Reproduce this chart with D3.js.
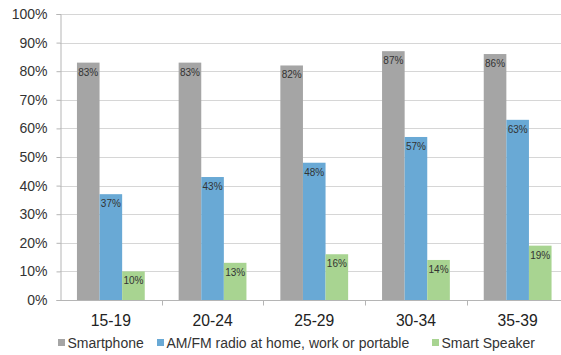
<!DOCTYPE html>
<html>
<head>
<meta charset="utf-8">
<script src="https://cdn.jsdelivr.net/npm/d3@7"></script>
<style>
  html, body { margin: 0; padding: 0; background: #fff; }
  svg { display: block; font-family: "Liberation Sans", Arial, sans-serif; }
</style>
</head>
<body>
<svg id="chart" width="561" height="355"></svg>
<script>
// Age groups along the x axis
const ageGroups = ["15-19", "20-24", "25-29", "30-34", "35-39"];

// Share of each age group using each device (percent)
const smartphone = [83, 83, 82, 87, 86];
const amfmRadio = [37, 43, 48, 57, 63];
const smartSpeaker = [10, 13, 16, 14, 19];

const seriesNames = ["Smartphone", "AM/FM radio at home, work or portable", "Smart Speaker"];
const seriesColors = ["#a5a5a5", "#69a9d5", "#a8d491"];

// Y axis tick values (percent)
const yTicks = [0, 10, 20, 30, 40, 50, 60, 70, 80, 90, 100];

const series = [smartphone, amfmRadio, smartSpeaker];

const svg = d3.select("#chart");
const margin = { left: 60, top: 14, bottom: 300 };
const plotRight = 568.5;

const x = d3.scaleBand()
  .domain(ageGroups)
  .range([margin.left, plotRight])
  .paddingInner(0)
  .paddingOuter(0);

const y = d3.scaleLinear()
  .domain([0, 100])
  .range([margin.bottom, margin.top]);

// Horizontal gridlines
svg.append("g")
  .selectAll("line")
  .data(yTicks.filter(d => d > 0))
  .join("line")
  .attr("x1", margin.left)
  .attr("x2", plotRight)
  .attr("y1", d => Math.round(y(d)) + 0.5)
  .attr("y2", d => Math.round(y(d)) + 0.5)
  .attr("stroke", "#d6d6d6")
  .attr("stroke-width", 1);

// Y axis
const yAxis = d3.axisLeft(y)
  .tickValues(yTicks)
  .tickFormat(d => d + "%")
  .tickSize(4)
  .tickPadding(9);

const gy = svg.append("g")
  .attr("transform", `translate(${margin.left + 0.5},0)`)
  .call(yAxis);
gy.select(".domain").attr("stroke", "#b5b5b5");
gy.selectAll(".tick line").attr("stroke", "#b5b5b5");
gy.selectAll(".tick text")
  .attr("fill", "#333")
  .style("font-size", "14px")
  .style("font-family", "Liberation Sans, Arial, sans-serif");

// Bars grouped inside each band (Excel-style 150% gap)
const bandW = x.bandwidth();
const barW = bandW / (3 + 1.5);
const groupOffset = (bandW - 3 * barW) / 2;

series.forEach((values, si) => {
  const g = svg.append("g");
  g.selectAll("rect")
    .data(values)
    .join("rect")
    .attr("x", (d, i) => x(ageGroups[i]) + groupOffset + si * barW)
    .attr("y", d => y(d))
    .attr("width", barW)
    .attr("height", d => y(0) - y(d))
    .attr("fill", seriesColors[si]);

  g.selectAll("text")
    .data(values)
    .join("text")
    .attr("x", (d, i) => x(ageGroups[i]) + groupOffset + si * barW + barW / 2)
    .attr("y", d => y(d) + 13)
    .attr("text-anchor", "middle")
    .attr("fill", "#333")
    .style("font-size", "10px")
    .text(d => d + "%");
});

// X axis with ticks at category boundaries
const gx = svg.append("g")
  .attr("transform", `translate(0,${margin.bottom + 0.5})`);
gx.append("line")
  .attr("x1", margin.left)
  .attr("x2", plotRight)
  .attr("stroke", "#b5b5b5");
gx.selectAll("line.tick")
  .data(ageGroups.slice(1))
  .join("line")
  .attr("class", "tick")
  .attr("x1", d => Math.round(x(d)) + 0.5)
  .attr("x2", d => Math.round(x(d)) + 0.5)
  .attr("y1", 0)
  .attr("y2", 5)
  .attr("stroke", "#b5b5b5");
gx.selectAll("text")
  .data(ageGroups)
  .join("text")
  .attr("x", d => x(d) + bandW / 2)
  .attr("y", 25.5)
  .attr("text-anchor", "middle")
  .attr("fill", "#222")
  .style("font-size", "15.7px")
  .text(d => d);

// Legend
const legendX = [58, 157, 432];
const legend = svg.append("g").attr("transform", "translate(0,343)");
seriesNames.forEach((name, i) => {
  legend.append("rect")
    .attr("x", legendX[i])
    .attr("y", -4)
    .attr("width", 7)
    .attr("height", 7)
    .attr("fill", seriesColors[i]);
  legend.append("text")
    .attr("x", legendX[i] + 9.5)
    .attr("y", 5)
    .attr("fill", "#333")
    .style("font-size", "14px")
    .text(name);
});
</script>
</body>
</html>
